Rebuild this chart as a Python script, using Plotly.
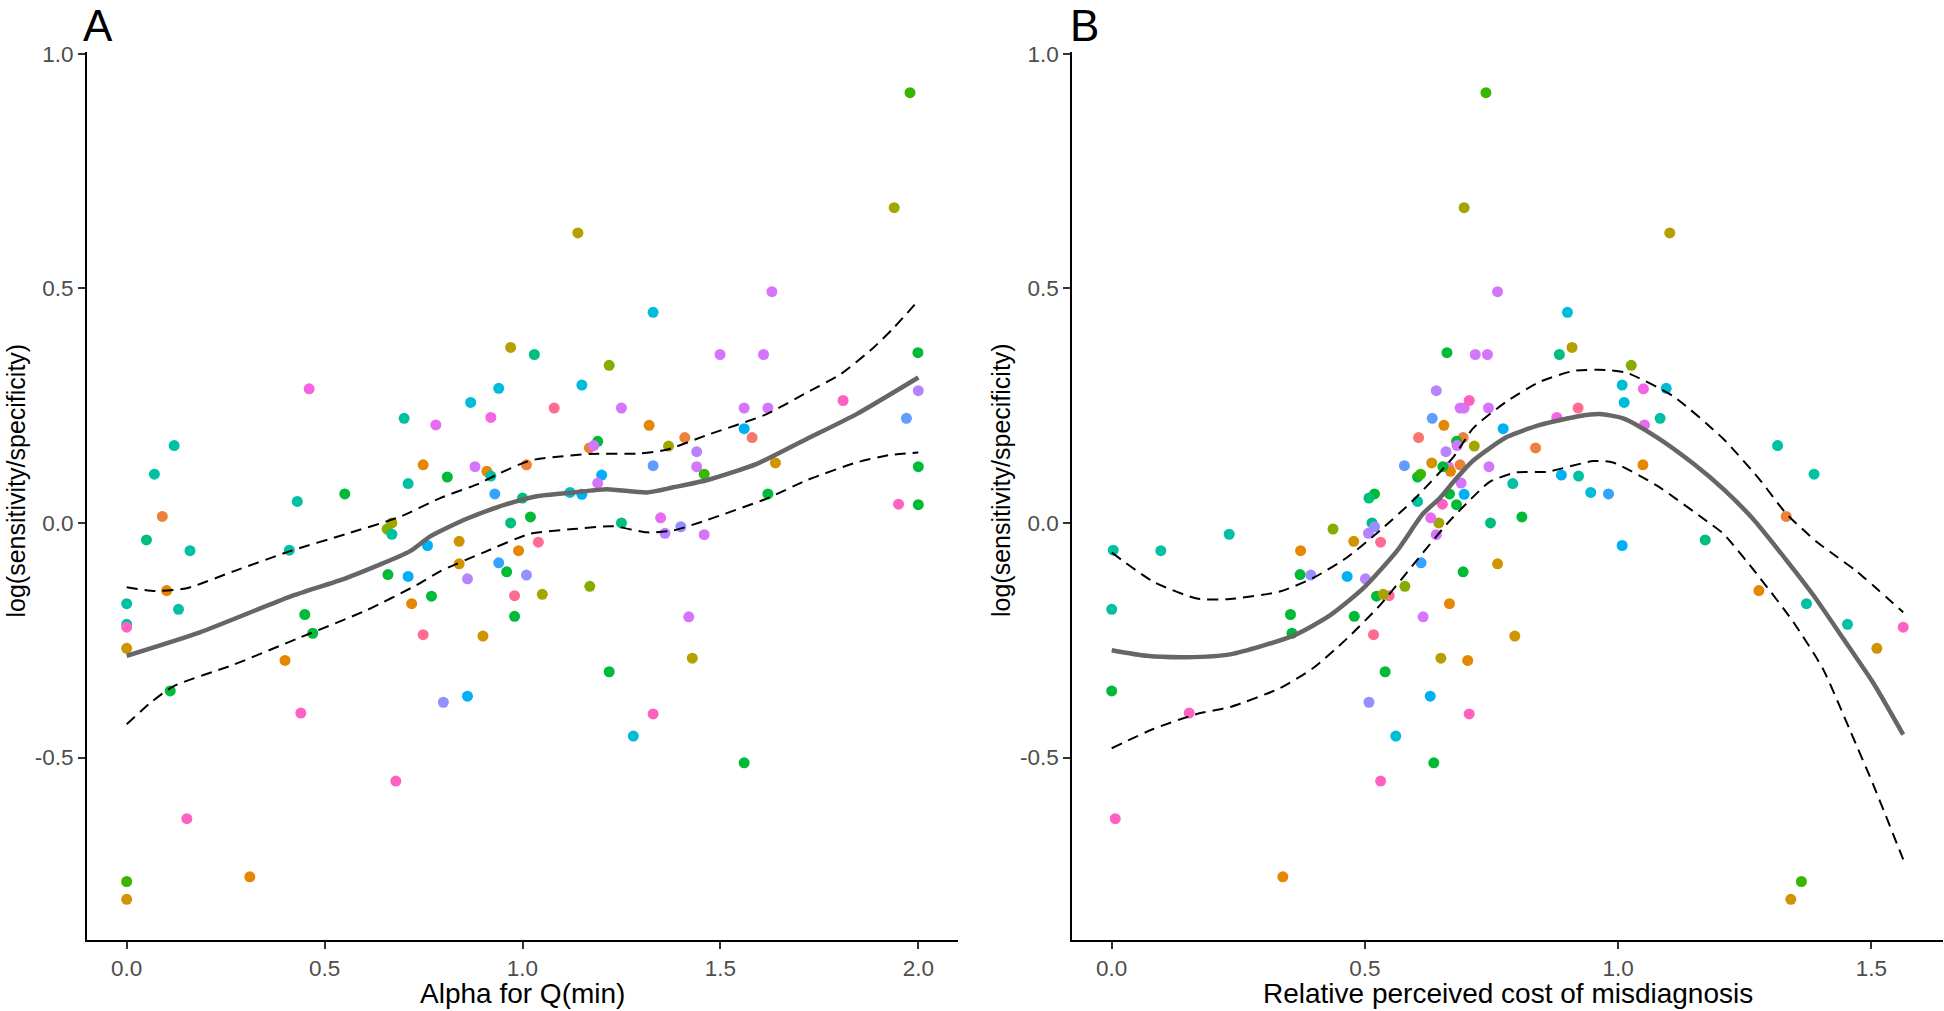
import plotly.graph_objects as go

# ---------------- data ----------------
log_ratio = [0.286, 0.257, 0.223, 0.209, 0.165, 0.124, 0.120, 0.098, 0.104, 0.062,
             0.084, 0.046, 0.014, -0.036, -0.059, 0.000, -0.013, -0.024, -0.048, -0.039,
             -0.058, -0.216, -0.222, -0.172, -0.267, -0.764, -0.802, -0.144, -0.184, -0.358,
             -0.630, -0.754, -0.293, -0.195, -0.235, -0.405, -0.550, -0.110, -0.114, -0.156,
             -0.172, -0.238, -0.087, -0.119, -0.382, -0.369, 0.917, 0.672, 0.618, 0.493,
             0.449, 0.374, 0.359, 0.336, 0.359, 0.359, 0.363, 0.294, 0.287, 0.225,
             0.245, 0.245, 0.245, 0.245, 0.261, 0.282, 0.223, 0.208, 0.201, 0.182,
             0.182, 0.174, 0.160, 0.165, 0.164, 0.152, 0.120, 0.122, 0.124, 0.128,
             0.110, 0.100, 0.102, 0.085, 0.104, 0.062, 0.053, 0.065, 0.061, 0.062,
             0.120, 0.040, 0.039, 0.000, 0.013, 0.000, 0.011, -0.022, -0.008, -0.025,
             -0.059, -0.041, -0.085, -0.104, -0.111, -0.155, -0.152, -0.135, -0.199, -0.241,
             -0.200, -0.288, -0.317, -0.407, -0.454, -0.511]

alpha_qmin = [0.461, 0.869, 0.701, 0.781, 0.120, 0.749, 0.880, 0.810, 0.070, 0.551,
              0.711, 0.431, 0.090, 0.050, 0.160, 0.670, 0.658, 0.670, 0.760, 0.840,
              0.411, 0.000, 0.000, 0.000, 0.000, 0.000, 0.000, 0.101, 0.131, 0.110,
              0.152, 0.311, 0.400, 0.450, 0.470, 0.440, 0.680, 0.660, 0.711, 0.770,
              0.720, 0.749, 0.840, 0.861, 0.800, 0.861, 1.979, 1.939, 1.140, 1.630,
              1.330, 0.970, 1.030, 1.219, 1.499, 1.609, 1.999, 1.150, 0.940, 0.920,
              1.080, 1.250, 1.560, 1.620, 1.810, 2.000, 1.970, 1.320, 1.560, 1.580,
              1.410, 1.190, 1.169, 1.180, 1.369, 1.440, 1.440, 1.330, 1.010, 1.639,
              0.910, 0.920, 1.200, 1.190, 1.459, 0.930, 1.000, 1.120, 1.150, 1.620,
              2.000, 1.950, 2.000, 0.970, 1.020, 1.250, 1.349, 1.360, 1.400, 1.459,
              0.990, 1.040, 0.940, 0.960, 1.010, 0.980, 1.050, 1.170, 0.980, 0.900,
              1.420, 1.429, 1.219, 1.330, 1.280, 1.560]

relative_cost = [1.050, 1.012, 1.083, 1.052, 1.315, 1.049, 0.745, 0.604, 1.387, 0.519,
                 0.792, 0.604, 1.332, 1.172, 0.097, 0.646, 0.437, 0.232, 1.008, 0.478,
                 0.003, 1.453, 1.563, 1.372, 1.511, 1.362, 1.341, 1.278, 0.000, 0.000,
                 0.007, 0.338, 0.703, 0.353, 0.356, 0.153, 0.531, 0.372, 0.465, 0.523,
                 0.667, 0.517, 0.762, 0.501, 0.508, 0.629, 0.739, 0.696, 1.102, 0.762,
                 0.900, 0.909, 0.884, 1.026, 0.718, 0.742, 0.662, 1.008, 1.095, 0.879,
                 0.921, 0.688, 0.696, 0.744, 0.706, 0.641, 0.633, 0.656, 0.773, 0.606,
                 0.694, 0.681, 0.837, 0.682, 0.716, 0.660, 0.665, 0.578, 0.688, 0.632,
                 0.669, 0.922, 0.888, 0.690, 0.610, 0.981, 0.508, 0.946, 0.696, 0.667,
                 0.654, 0.653, 0.681, 0.514, 0.810, 0.748, 0.630, 0.507, 0.519, 0.641,
                 0.373, 0.531, 0.611, 0.694, 0.393, 0.548, 0.536, 0.579, 0.479, 0.796,
                 0.615, 0.650, 0.540, 0.706, 0.561, 0.636]

study = [19, 11, 10, 18, 10, 2, 17, 8, 10, 8,
         10, 10, 1, 9, 10, 5, 6, 10, 12, 3,
         10, 10, 20, 10, 3, 7, 3, 2, 10, 8,
         20, 2, 2, 8, 8, 20, 20, 8, 12, 8,
         2, 21, 3, 16, 15, 12, 7, 5, 4, 17,
         11, 4, 9, 6, 17, 17, 8, 11, 11, 19,
         21, 17, 17, 17, 20, 16, 14, 2, 12, 0,
         1, 8, 1, 17, 5, 16, 17, 14, 1, 3,
         2, 10, 12, 17, 7, 13, 9, 11, 12, 8,
         8, 20, 8, 9, 8, 9, 18, 16, 15, 17,
         2, 21, 13, 8, 15, 21, 5, 6, 8, 3,
         17, 4, 8, 20, 11, 8]

# loess fit and its confidence band
fitA_x = [0.0, 0.185, 0.413, 0.556, 0.716, 0.766, 0.859, 0.96, 1.036, 1.128, 1.213, 1.314,
          1.381, 1.465, 1.592, 1.718, 1.844, 2.0]
fitA_y = [-0.283, -0.233, -0.157, -0.117, -0.06, -0.029, 0.009, 0.040, 0.057, 0.065, 0.072,
          0.065, 0.076, 0.091, 0.126, 0.179, 0.232, 0.310]
upA_x = [0.0, 0.072, 0.152, 0.27, 0.413, 0.556, 0.69, 0.792, 0.893, 0.935, 1.019, 1.17,
         1.297, 1.364, 1.465, 1.617, 1.718, 1.802, 1.886, 1.937, 2.0]
upA_y = [-0.137, -0.145, -0.139, -0.103, -0.06, -0.023, 0.013, 0.053, 0.085, 0.103, 0.133,
         0.147, 0.148, 0.156, 0.187, 0.232, 0.278, 0.316, 0.373, 0.415, 0.474]
loA_x = [0.0, 0.059, 0.118, 0.27, 0.438, 0.606, 0.733, 0.792, 0.901, 1.019, 1.128, 1.229,
         1.314, 1.381, 1.465, 1.617, 1.718, 1.844, 1.929, 2.0]
loA_y = [-0.429, -0.384, -0.348, -0.302, -0.244, -0.186, -0.132, -0.103, -0.063, -0.023,
         -0.013, -0.007, -0.020, -0.016, 0.006, 0.052, 0.091, 0.129, 0.145, 0.150]

fitB_x = [0.0, 0.069, 0.148, 0.234, 0.359, 0.431, 0.497, 0.563, 0.615, 0.648, 0.675, 0.714,
          0.78, 0.846, 0.925, 0.964, 1.01, 1.076, 1.149, 1.208, 1.267, 1.333, 1.385, 1.445,
          1.504, 1.563]
fitB_y = [-0.271, -0.283, -0.286, -0.280, -0.24, -0.197, -0.139, -0.06, 0.02, 0.053, 0.088,
          0.133, 0.183, 0.209, 0.228, 0.232, 0.223, 0.183, 0.126, 0.072, 0.008, -0.08,
          -0.153, -0.247, -0.341, -0.451]
upB_x = [0.0, 0.082, 0.168, 0.234, 0.332, 0.398, 0.464, 0.53, 0.596, 0.675, 0.714, 0.78,
         0.846, 0.912, 0.977, 1.017, 1.109, 1.208, 1.28, 1.332, 1.392, 1.432, 1.471, 1.563]
upB_y = [-0.063, -0.125, -0.161, -0.162, -0.146, -0.117, -0.074, -0.016, 0.049, 0.141,
         0.202, 0.259, 0.301, 0.324, 0.326, 0.320, 0.270, 0.179, 0.092, 0.020, -0.040,
         -0.072, -0.103, -0.190]
loB_x = [0.0, 0.082, 0.168, 0.234, 0.332, 0.398, 0.464, 0.53, 0.596, 0.662, 0.701, 0.747,
         0.8, 0.859, 0.951, 0.99, 1.076, 1.175, 1.208, 1.28, 1.346, 1.405, 1.458, 1.504, 1.563]
loB_y = [-0.48, -0.439, -0.407, -0.392, -0.352, -0.309, -0.247, -0.175, -0.088, -0.002,
         0.042, 0.088, 0.108, 0.109, 0.132, 0.129, 0.080, 0.004, -0.023, -0.117, -0.211,
         -0.312, -0.442, -0.558, -0.717]

x_ticks_A = [0, 0.5, 1.0, 1.5, 2.0]
x_labels_A = ["0.0", "0.5", "1.0", "1.5", "2.0"]
x_ticks_B = [0, 0.5, 1.0, 1.5]
x_labels_B = ["0.0", "0.5", "1.0", "1.5"]
y_ticks = [-0.5, 0.0, 0.5, 1.0]
y_labels = ["-0.5", "0.0", "0.5", "1.0"]

panel_labels = ["A", "B"]
x_titles = ["Alpha for Q(min)", "Relative perceived cost of misdiagnosis"]
y_title = "log(sensitivity/specificity)"

# ggplot-like hue palette for the studies
palette = ["#F8766D", "#EC8239", "#E58700", "#CF9400", "#B79F00", "#A3A500", "#85AD00",
           "#39B600", "#00BA38", "#00BF7D", "#00C1A3", "#00BCD8", "#00B0F6", "#35A2FF",
           "#619CFF", "#9590FF", "#B983FF", "#D575FE", "#E76BF3", "#F564E3", "#FF61C3",
           "#FF6C91"]
colors = [palette[s] for s in study]

# ---------------- figure ----------------
W, H = 1944, 1011
FONT = "Liberation Sans, Arial, Helvetica, sans-serif"

fig = go.Figure()

panels = [
    dict(x=alpha_qmin, fit=(fitA_x, fitA_y), up=(upA_x, upA_y), lo=(loA_x, loA_y), xa="x", ya="y"),
    dict(x=relative_cost, fit=(fitB_x, fitB_y), up=(upB_x, upB_y), lo=(loB_x, loB_y), xa="x2", ya="y2"),
]
for p in panels:
    fig.add_trace(go.Scatter(x=p["x"], y=log_ratio, mode="markers",
                             marker=dict(size=11, color=colors, line=dict(width=0)),
                             xaxis=p["xa"], yaxis=p["ya"], hoverinfo="skip"))
    for key in ("up", "lo"):
        fig.add_trace(go.Scatter(x=p[key][0], y=p[key][1], mode="lines",
                                 line=dict(color="black", width=2, dash="11px,7px",
                                           shape="spline", smoothing=0.6),
                                 xaxis=p["xa"], yaxis=p["ya"], hoverinfo="skip"))
    fig.add_trace(go.Scatter(x=p["fit"][0], y=p["fit"][1], mode="lines",
                             line=dict(color="#666666", width=4.5, shape="spline", smoothing=0.6),
                             xaxis=p["xa"], yaxis=p["ya"], hoverinfo="skip"))

y_dom = [1 - 939.7 / H, 1 - 52.3 / H]
xa_dom = [87.1 / W, 957.9 / W]
xb_dom = [1072.2 / W, 1942.7 / W]

axis_common = dict(showline=True, linecolor="black", linewidth=2, ticks="outside",
                   ticklen=7, tickwidth=2, tickcolor="#333333", showgrid=False,
                   zeroline=False, automargin=False,
                   tickfont=dict(family=FONT, size=22.5, color="#4D4D4D"))

fig.update_layout(
    width=W, height=H, autosize=False,
    margin=dict(l=0, r=0, t=0, b=0, pad=0, autoexpand=False),
    paper_bgcolor="white", plot_bgcolor="white",
    showlegend=False,
    font=dict(family=FONT),
    xaxis=dict(domain=xa_dom, range=[-0.1, 2.1], tickvals=x_ticks_A, ticktext=x_labels_A,
               anchor="y", **axis_common),
    yaxis=dict(domain=y_dom, range=[-0.888, 1.003], tickvals=y_ticks, ticktext=y_labels,
               anchor="x", **axis_common),
    xaxis2=dict(domain=xb_dom, range=[-0.078, 1.641], tickvals=x_ticks_B, ticktext=x_labels_B,
                anchor="y2", **axis_common),
    yaxis2=dict(domain=y_dom, range=[-0.888, 1.003], tickvals=y_ticks, ticktext=y_labels,
                anchor="x2", **axis_common),
)

ann = []
# panel letters (text box kept inside the page)
for lab, xpx in zip(panel_labels, [82.0, 1069.0]):
    ann.append(dict(text=lab, x=xpx / W, y=1.0, xref="paper", yref="paper",
                    xanchor="left", yanchor="top", showarrow=False, borderpad=0,
                    font=dict(family=FONT, size=44, color="black")))
# x titles
for t, xpx in zip(x_titles, [522.5, 1508.0]):
    ann.append(dict(text=t, x=xpx / W, y=1 - 993.0 / H, xref="paper", yref="paper",
                    xanchor="center", yanchor="middle", showarrow=False,
                    font=dict(family=FONT, size=28, color="black")))
# y titles
for xpx in [15.0, 1000.5]:
    ann.append(dict(text=y_title, x=xpx / W, y=1 - 480.5 / H, xref="paper", yref="paper",
                    xanchor="center", yanchor="middle", textangle=-90, showarrow=False,
                    font=dict(family=FONT, size=25, color="black")))
fig.update_layout(annotations=ann)

fig.write_html("out.html", include_plotlyjs=True, full_html=True,
               config={"displayModeBar": False},
               post_script="document.body.style.margin='0';document.body.style.overflow='hidden';")
